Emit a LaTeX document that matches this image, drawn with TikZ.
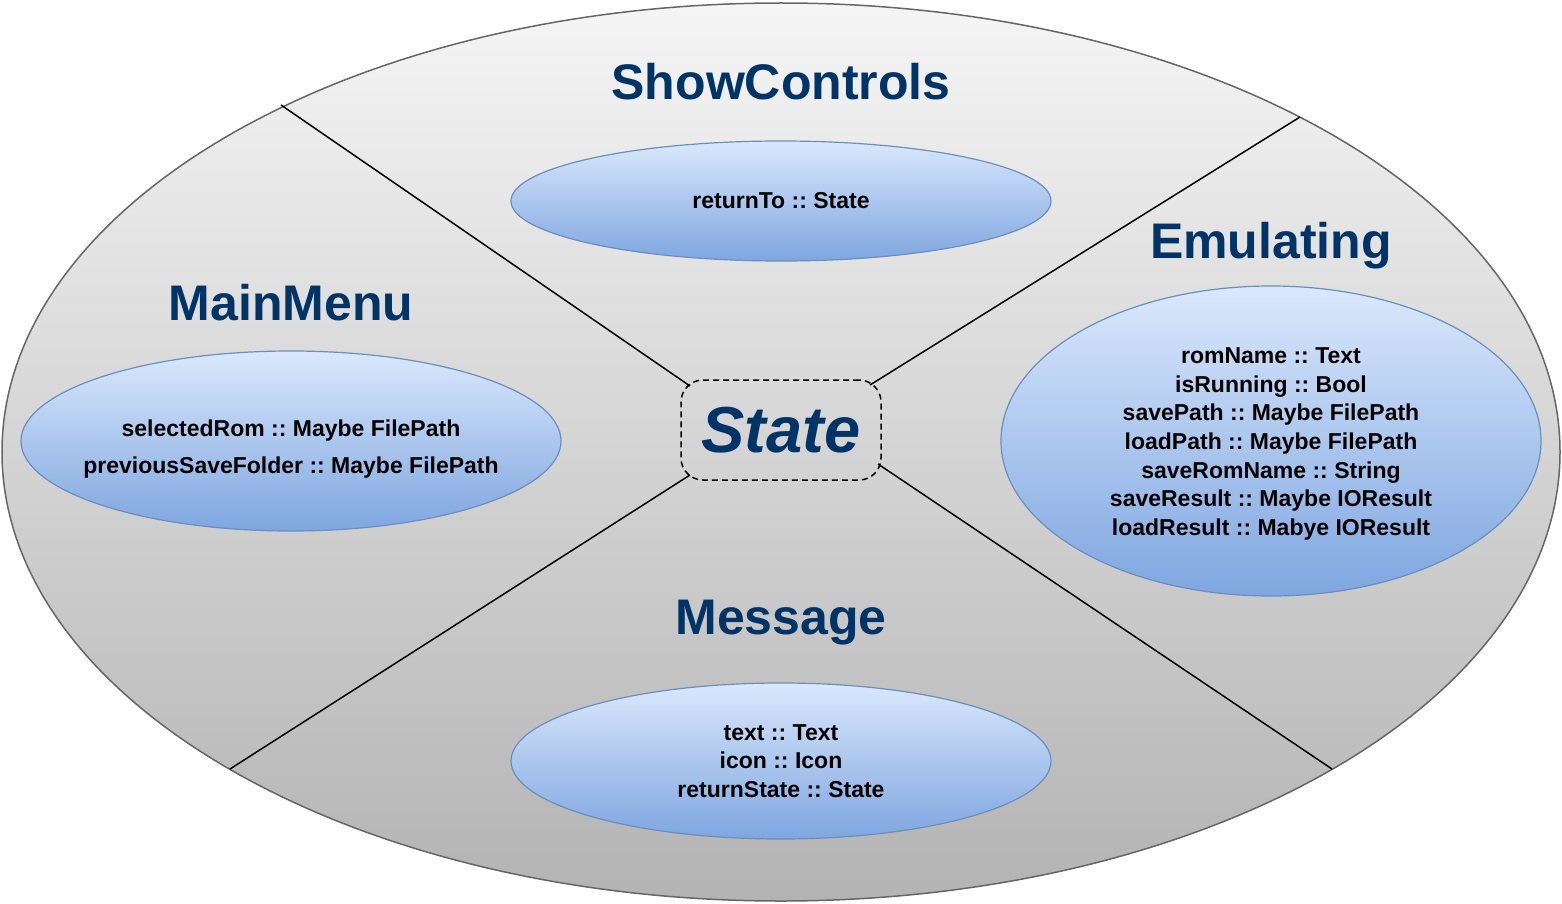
\documentclass[tikz,border=0pt]{standalone}
\usepackage{fontspec}
\setmainfont{Liberation Sans}
\usetikzlibrary{shapes.geometric}
\definecolor{titleblue}{HTML}{003366}
\definecolor{rimgray}{HTML}{666666}
\definecolor{topgray}{HTML}{F5F5F5}
\definecolor{lowgray}{HTML}{B3B3B3}
\definecolor{bubbletop}{HTML}{DAE8FC}
\definecolor{bubblelow}{HTML}{7EA6E0}
\definecolor{bubblerim}{HTML}{6C8EBF}
\frenchspacing
\begin{document}
\begin{tikzpicture}[x=1pt,y=-1pt]
    \tikzset{
        world/.style={ellipse,draw=rimgray,line width=1.5pt,top color=topgray,bottom color=lowgray,
            minimum width=1558pt,minimum height=898pt,inner sep=0pt},
        bubble/.style={ellipse,draw=bubblerim,line width=1.2pt,top color=bubbletop,bottom color=bubblelow,
            minimum width=540pt,inner sep=0pt},
        fieldtext/.style={align=center,inner sep=0pt,font=\fontsize{23}{28.7}\selectfont\bfseries},
        heading/.style={anchor=base,text=titleblue,inner sep=0pt,font=\fontsize{50}{50}\selectfont\bfseries},
        statebox/.style={draw,dashed,dash pattern=on 6pt off 4pt,line width=1.5pt,rounded corners=22pt,
            minimum width=200pt,minimum height=100pt,text=titleblue,font=\fontsize{65}{65}\selectfont\bfseries\itshape},
        divider/.style={line width=1.5pt}}
    \useasboundingbox (0,0) rectangle (1562,904);
    \node[world] (all) at (781,452) {};
    % the four divider lines
    \coordinate (tlout) at (281,105);
    \coordinate (trout) at (1300,117);
    \coordinate (blout) at (230,769);
    \coordinate (brout) at (1332,769);
    \coordinate (tlin) at (690,386);
    \coordinate (trin) at (870,385);
    \coordinate (blin) at (690,475);
    \coordinate (brin) at (878,464);
    \draw[divider] (tlout) -- (tlin);
    \draw[divider] (trout) -- (trin);
    \draw[divider] (blout) -- (blin);
    \draw[divider] (brout) -- (brin);
    \node[statebox] (state) at (781,430) {State};
    % headings
    \node[heading] (showtitle) at (781,100) {ShowControls};
    \node[heading] (emutitle) at (1271,258) {Emulating};
    \node[heading] (menutitle) at (291,320) {MainMenu};
    \node[heading] (msgtitle) at (781,634) {Message};
    % fields
    \node[bubble,minimum height=120pt] (showbubble) at (781,201) {};
    \node[fieldtext] (showfields) at (showbubble) {returnTo :: State};
    \node[bubble,minimum height=180pt] (menububble) at (291,441) {};
    \node[fieldtext,yshift=-8pt] (menufields) at (menububble)
        {selectedRom :: Maybe FilePath\\[9pt]previousSaveFolder :: Maybe FilePath};
    \node[bubble,minimum height=310pt] (emububble) at (1271,441) {};
    \node[fieldtext,yshift=-3pt] (emufields) at (emububble)
        {romName :: Text\\isRunning :: Bool\\savePath :: Maybe FilePath\\loadPath :: Maybe FilePath\\
         saveRomName :: String\\saveResult :: Maybe IOResult\\loadResult :: Mabye IOResult};
    \node[bubble,minimum height=156pt] (msgbubble) at (781,761) {};
    \node[fieldtext] (msgfields) at (msgbubble)
        {text :: Text\\icon :: Icon\\returnState :: State};
\end{tikzpicture}
\end{document}
